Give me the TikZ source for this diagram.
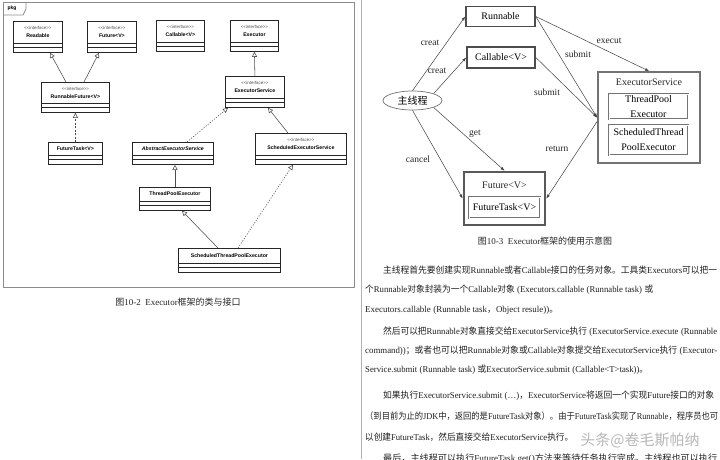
\documentclass[tikz,border=0pt]{standalone}
\usepackage{fontspec}
\usepackage{graphicx}
\setmainfont{Liberation Serif}
\newfontfamily\cjk{Noto Sans CJK SC}
\newfontfamily\umlsans{Liberation Sans}
\usetikzlibrary{arrows.meta,shapes.geometric}
\newcommand{\zh}[1]{{\cjk #1}}
\newcommand{\lpar}{\hspace{2.5pt}(}
\newcommand{\rpar}{)\hspace{2.5pt}}
\tikzset{
  umlbox/.style={draw=black!85, line width=0.8pt, anchor=north west, inner sep=0pt, fill=white},
  stereo/.style={font=\umlsans\fontsize{4.4}{5}\selectfont, text=black!70, inner sep=0pt},
  umlname/.style={font=\umlsans\bfseries\fontsize{5.2}{6}\selectfont, inner sep=0pt},
  gen/.style={draw=black!70, line width=0.55pt, -{Triangle[open,length=5pt,width=5pt]}},
  realdash/.style={gen, dash pattern=on 2pt off 1.5pt},
  realdot/.style={gen, dash pattern=on 1.2pt off 1.5pt},
  comp/.style={draw=black!85, line width=0.6pt},
  rbox/.style={draw=black!70, line width=1.6pt, inner sep=0pt, font=\fontsize{10}{12}\selectfont},
  outerbox/.style={draw=black!55, line width=1.8pt, inner sep=0pt},
  futbox/.style={draw=black!65, line width=2.6pt, inner sep=0pt},
  innerbox/.style={draw=black!55, double=white, double distance=0.8pt, line width=0.6pt, inner sep=0pt, align=center, font=\fontsize{10}{15}\selectfont},
  rtext/.style={inner sep=0pt, font=\fontsize{10}{12}\selectfont, text=black!85},
  flow/.style={draw=black!75, line width=0.5pt, -{Latex[length=4pt,width=3pt]}},
  flowlbl/.style={inner sep=0pt, font=\fontsize{9.5}{11}\selectfont, text=black!85},
  para/.style={inner sep=0pt, anchor=west, font=\fontsize{9}{11}\selectfont, text=black!88},
  caption/.style={inner sep=0pt, font=\fontsize{9}{11}\selectfont, text=black!85},
}
\newcommand{\comps}[1]{%
  \draw[comp] ([yshift=9.5pt]#1.south west) -- ([yshift=9.5pt]#1.south east);
  \draw[comp] ([yshift=5.5pt]#1.south west) -- ([yshift=5.5pt]#1.south east);
}
\begin{document}
\begin{tikzpicture}[x=1pt,y=-1pt]
\path[use as bounding box] (0,0) rectangle (720,459);
\begin{scope}
\clip (0,0) rectangle (720,459);
\fill[white] (0,0) rectangle (720,459);

% ---------------- left panel ----------------
\draw[black!45, line width=1pt] (3,2) rectangle (354,287);
\draw[black!45, line width=0.8pt] (3,15) -- (23,15) -- (26,9) -- (26,2);
\node[inner sep=0pt, font=\umlsans\bfseries\fontsize{5}{6}\selectfont] (pkg) at (12,8) {pkg};

\node[umlbox, minimum width=49pt, minimum height=31pt] (readable) at (13,21) {};
\node[umlbox, minimum width=49pt, minimum height=31pt] (future) at (87,21) {};
\node[umlbox, minimum width=48pt, minimum height=31pt] (callable) at (156,20) {};
\node[umlbox, minimum width=48pt, minimum height=31pt] (executor) at (230,20) {};
\node[umlbox, minimum width=68pt, minimum height=30pt] (rf) at (41,82) {};
\node[umlbox, minimum width=59pt, minimum height=31pt] (es) at (225,76) {};
\node[umlbox, minimum width=54pt, minimum height=22pt] (ft) at (48,142) {};
\node[umlbox, minimum width=81pt, minimum height=22pt] (aes) at (132,142) {};
\node[umlbox, minimum width=91pt, minimum height=31pt] (ses) at (255,133) {};
\node[umlbox, minimum width=71pt, minimum height=23pt] (tpe) at (139,187) {};
\node[umlbox, minimum width=102pt, minimum height=24pt] (stpe) at (178,248) {};
\foreach \b in {readable,future,callable,executor,rf,es,ft,aes,ses,tpe,stpe}{\comps{\b}}

\foreach \b/\t in {readable/Readable,future/Future<V>,callable/Callable<V>,executor/Executor,rf/RunnableFuture<V>,es/ExecutorService,ses/ScheduledExecutorService}{
  \node[stereo] (\b-st) at ([yshift=-7pt]\b.north) {<<interface>>};
  \node[umlname] (\b-nm) at ([yshift=-15pt]\b.north) {\t};
}
\node[umlname] (ft-nm) at ([yshift=-7pt]ft.north) {FutureTask<V>};
\node[umlname, font=\umlsans\bfseries\itshape\fontsize{5.2}{6}\selectfont] (aes-nm) at ([yshift=-7pt]aes.north) {AbstractExecutorService};
\node[umlname] (tpe-nm) at ([yshift=-7pt]tpe.north) {ThreadPoolExecutor};
\node[umlname] (stpe-nm) at ([yshift=-7.5pt]stpe.north) {ScheduledThreadPoolExecutor};

\draw[gen] ([xshift=25pt]rf.north west) -- ([xshift=37pt]readable.south west);
\draw[gen] ([xshift=43pt]rf.north west) -- ([xshift=12pt]future.south west);
\draw[gen] (es.north) -- (executor.south);
\draw[realdash] (ft.north) -- (rf.south);
\draw[realdot] ([xshift=55pt]aes.north west) -- ([xshift=3pt]es.south west);
\draw[gen] ([xshift=33pt]ses.north west) -- ([xshift=43pt]es.south west);
\draw[gen] ([xshift=36pt]tpe.north west) -- ([xshift=43pt]aes.south west);
\draw[gen] ([xshift=40pt]stpe.north west) -- ([xshift=43pt]tpe.south west);
\draw[realdot] ([xshift=60pt]stpe.north west) -- ([xshift=38pt]ses.south west);

\node[caption] (cap2) at (178,302) {\zh{图}10-2\ \ Executor\zh{框架的类与接口}};

% ---------------- right page ----------------
\draw[black!30, line width=1pt] (361,0) -- (361,459);

\node[rbox, minimum width=69pt, minimum height=20pt] (rn) at (500.5,16.5) {Runnable};
\node[rbox, minimum width=68pt, minimum height=21pt] (cl) at (501,57.5) {Callable<V>};
\node[draw=black!55, line width=0.7pt, ellipse, minimum width=59pt, minimum height=19pt, inner sep=0pt, font=\cjk\fontsize{10}{12}\selectfont] (main) at (412.5,100.5) {主线程};
\node[outerbox, minimum width=102pt, minimum height=91pt] (esv) at (649,117.5) {};
\node[rtext] (esv-t) at (649,82) {ExecutorService};
\node[innerbox, minimum width=79pt, minimum height=25pt] (tpool) at (648.5,106.5) {ThreadPool\\Executor};
\node[innerbox, minimum width=79pt, minimum height=30pt] (stpool) at (648.5,140) {ScheduledThread\\PoolExecutor};
\node[futbox, minimum width=81pt, minimum height=53pt] (fut) at (504.5,198.5) {};
\node[rtext] (fut-t) at (504.5,185) {Future<V>};
\node[innerbox, minimum width=71pt, minimum height=21pt] (ftask) at (504.5,207.5) {FutureTask<V>};

\draw[flow] (main.north) -- (rn.west);
\draw[flow] (main.north east) -- (cl.west);
\draw[flow] (rn.east) -- (esv.north);
\draw[flow] (rn.east) -- (esv.west);
\draw[flow] (cl.east) -- (esv.west);
\draw[flow] (main.south east) -- (fut.north);
\draw[flow] (main.south) -- (fut.west);
\draw[flow] ([yshift=-4pt]esv.west) -- (fut.east);

\node[flowlbl] (l-creat1) at (430,43) {creat};
\node[flowlbl] (l-creat2) at (437,71) {creat};
\node[flowlbl] (l-execut) at (609,41) {execut};
\node[flowlbl] (l-submit1) at (578,54) {submit};
\node[flowlbl] (l-submit2) at (547,92) {submit};
\node[flowlbl] (l-get) at (475,134) {get};
\node[flowlbl] (l-cancel) at (418,159) {cancel};
\node[flowlbl] (l-return) at (557,149) {return};

\node[caption] (cap3) at (545,241) {\zh{图}10-3\ \ Executor\zh{框架的使用示意图}};

% ---------------- paragraphs ----------------
\node[para] (p1) at (383,270) {\resizebox{334pt}{\height}{\zh{主线程首先要创建实现}Runnable\zh{或者}Callable\zh{接口的任务对象。工具类}Executors\zh{可以把一}}};
\node[para] (p2) at (365,290) {\resizebox{288pt}{\height}{\zh{个}Runnable\zh{对象封装为一个}Callable\zh{对象}\lpar Executors.callable\lpar Runnable task\rpar\zh{或}}};
\node[para] (p3) at (365,310) {\resizebox{193pt}{\height}{Executors.callable\lpar Runnable task\zh{，}Object resule))\zh{。}}};
\node[para] (p4) at (383,332) {\resizebox{334pt}{\height}{\zh{然后可以把}Runnable\zh{对象直接交给}ExecutorService\zh{执行}\lpar ExecutorService.execute\lpar Runnable}};
\node[para] (p5) at (365,351) {\resizebox{352pt}{\height}{command))\zh{；或者也可以把}Runnable\zh{对象或}Callable\zh{对象提交给}ExecutorService\zh{执行}\lpar Executor-}};
\node[para] (p6) at (365,370) {\resizebox{283pt}{\height}{Service.submit\lpar Runnable task\rpar\zh{或}ExecutorService.submit\lpar Callable<T>task))\zh{。}}};
\node[para] (p7) at (383,396) {\resizebox{331pt}{\height}{\zh{如果执行}ExecutorService.submit\lpar…)\zh{，}ExecutorService\zh{将返回一个实现}Future\zh{接口的对象}}};
\node[para] (p8) at (365,416) {\resizebox{353pt}{\height}{\zh{（到目前为止的}JDK\zh{中，返回的是}FutureTask\zh{对象）。由于}FutureTask\zh{实现了}Runnable\zh{，程序员也可}}};
\node[para] (p9) at (365,437) {\resizebox{208pt}{\height}{\zh{以创建}FutureTask\zh{，然后直接交给}ExecutorService\zh{执行。}}};
\node[para] (p10) at (383,459) {\resizebox{334pt}{\height}{\zh{最后，主线程可以执行}FutureTask.get()\zh{方法来等待任务执行完成。主线程也可以执行}}};

\node[inner sep=0pt, text=black!28, font=\cjk\fontsize{15}{16}\selectfont] (wm) at (640,440) {头条@卷毛斯帕纳};
\end{scope}
\end{tikzpicture}
\end{document}
